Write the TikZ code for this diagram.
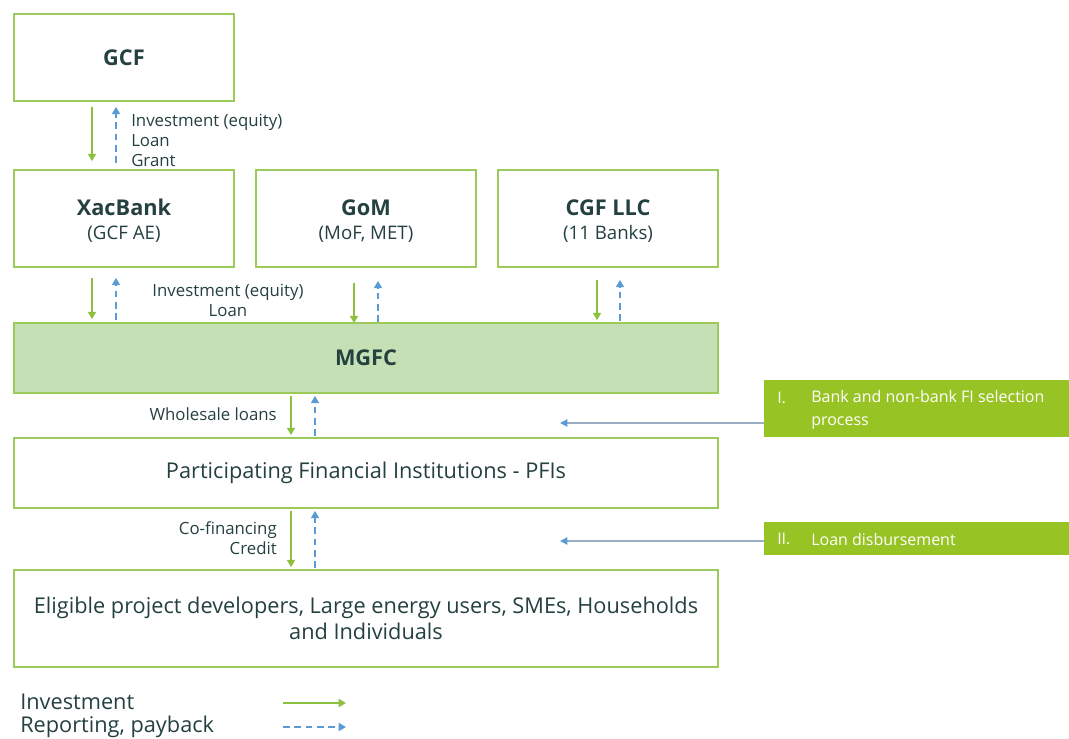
\documentclass[tikz,border=0pt]{standalone}
\usepackage{fontspec}
\setmainfont{Open Sans}
\usetikzlibrary{arrows.meta,calc}
\definecolor{boxgreen}{HTML}{9CCB5A}
\definecolor{mgfcfill}{HTML}{C6E0B5}
\definecolor{invgreen}{HTML}{8DC03F}
\definecolor{repblue}{HTML}{5B9BD5}
\definecolor{linegray}{HTML}{9AAFC3}
\definecolor{sidegreen}{HTML}{97C424}
\definecolor{txt}{HTML}{24403F}
\tikzset{
  box/.style={draw=boxgreen, line width=1.3pt, fill=white, text=txt, align=center, inner sep=0pt},
  sidebox/.style={fill=sidegreen, draw=none, text=white, inner sep=0pt},
  sidetxt/.style={text=white, inner sep=0pt, font=\fontsize{12}{17.25}\selectfont},
  inv/.style={draw=invgreen, line width=1.3pt, -{Triangle[length=5.5pt,width=6pt]}},
  rep/.style={draw=repblue, line width=1.3pt, dash pattern=on 5pt off 3.5pt, -{Triangle[length=5.5pt,width=6pt]}},
  side/.style={draw=linegray, line width=1pt, -{Triangle[length=5.5pt,width=5.5pt,color=repblue]}},
  lbl/.style={text=txt, font=\fontsize{12.6}{15}\selectfont, inner sep=0pt},
  ttl/.style={font=\fontsize{16.3}{18}\selectfont\bfseries},
}
\newcommand{\subt}[1]{{\fontsize{14}{16}\selectfont #1}}
\newcommand{\ttltxt}[1]{\rule{0pt}{15pt}{\fontsize{16.3}{18}\selectfont\bfseries #1}}
\begin{document}
\begin{tikzpicture}[x=0.75pt, y=-0.75pt]
\useasboundingbox (0,0) rectangle (1069,738);
% main boxes
\node[box, minimum width=165pt, minimum height=65.25pt, ttl] (gcf) at (124,57.5) {GCF};
\node[box, minimum width=165pt, minimum height=72.75pt] (xac) at (124,218.5) {\ttltxt{XacBank}\\[6pt]\subt{(GCF AE)}};
\node[box, minimum width=165pt, minimum height=72.75pt] (gom) at (366,218.5) {\ttltxt{GoM}\\[6pt]\subt{(MoF, MET)}};
\node[box, minimum width=165pt, minimum height=72.75pt] (cgf) at (608,218.5) {\ttltxt{CGF LLC}\\[6pt]\subt{(11 Banks)}};
\node[box, fill=mgfcfill, minimum width=528pt, minimum height=52.5pt, ttl] (mgfc) at (366,358) {MGFC};
\node[box, minimum width=528pt, minimum height=52.5pt, font=\fontsize{16.3}{19}\selectfont] (pfi) at (366,473) {Participating Financial Institutions - PFIs};
\node[box, minimum width=528pt, minimum height=72.75pt, font=\fontsize{16.3}{19.5}\selectfont] (elig) at (366,618.5) {Eligible project developers, Large energy users, SMEs, Households\\and Individuals};
% side boxes
\node[sidebox, minimum width=231pt, minimum height=42.75pt] (sel1) at (918,408.5) {};
\node[sidebox, minimum width=231pt, minimum height=24.75pt] (sel2) at (918,538.5) {};
\node[sidetxt, anchor=west] (s1n) at (777,398) {I.};
\node[sidetxt, anchor=west, align=left] (s1t) at (811,409.5) {Bank and non-bank FI selection\\process};
\node[sidetxt, anchor=west] (s2n) at (777,539) {II.};
\node[sidetxt, anchor=west] (s2t) at (811,539) {Loan disbursement};
\coordinate (e1) at (560,423);
\coordinate (e2) at (560,541);
\draw[side] (sel1.west |- e1) -- (e1);
\draw[side] (sel2.west |- e2) -- (e2);
% GCF <-> XacBank
\draw[inv] ($(gcf.south)+(-32,5)$) -- ($(xac.north)+(-32,-8)$);
\draw[rep] ($(xac.north)+(-8,-6)$) -- ($(gcf.south)+(-8,5)$);
\node[lbl, anchor=west, align=left] (l1) at (131,140) {Investment (equity)\\Loan\\Grant};
% row 2 -> MGFC
\draw[inv] ($(xac.south)+(-32,10)$) -- ($(mgfc.north)+(-274,-3)$);
\draw[rep] ($(mgfc.north)+(-250,-2)$) -- ($(xac.south)+(-8,10)$);
\draw[inv] ($(gom.south)+(-12,15)$) -- ($(mgfc.north)+(-12,1)$);
\draw[rep] ($(mgfc.north)+(12,0)$) -- ($(gom.south)+(12,13)$);
\draw[inv] ($(cgf.south)+(-11,12)$) -- ($(mgfc.north)+(231,-2)$);
\draw[rep] ($(mgfc.north)+(254,-1)$) -- ($(cgf.south)+(12,12)$);
\node[lbl, align=center] (l2) at (228,300.5) {Investment (equity)\\Loan};
% MGFC -> PFI
\draw[inv] ($(mgfc.south)+(-75,2)$) -- ($(pfi.north)+(-75,-2)$);
\draw[rep] ($(pfi.north)+(-51,-1)$) -- ($(mgfc.south)+(-51,2)$);
\node[lbl, anchor=east] (l3) at (277,414) {Wholesale loans};
% PFI -> Eligible
\draw[inv] ($(pfi.south)+(-75,2)$) -- ($(elig.north)+(-75,-2)$);
\draw[rep] ($(elig.north)+(-51,-1)$) -- ($(pfi.south)+(-51,2)$);
\node[lbl, anchor=east, align=right] (l4) at (277,538) {Co-financing\\Credit};
% legend
\node[text=txt, anchor=west, inner sep=0pt, font=\fontsize{16.3}{18}\selectfont] (leg1) at (20,702) {Investment};
\node[text=txt, anchor=west, inner sep=0pt, font=\fontsize{16.3}{18}\selectfont] (leg2) at (20,727) {Reporting, payback};
\coordinate (a1) at (283,703); \coordinate (b1) at (346,703);
\coordinate (a2) at (283,727); \coordinate (b2) at (346,727);
\draw[inv] (a1) -- (b1);
\draw[rep] (a2) -- (b2);
\end{tikzpicture}
\end{document}
